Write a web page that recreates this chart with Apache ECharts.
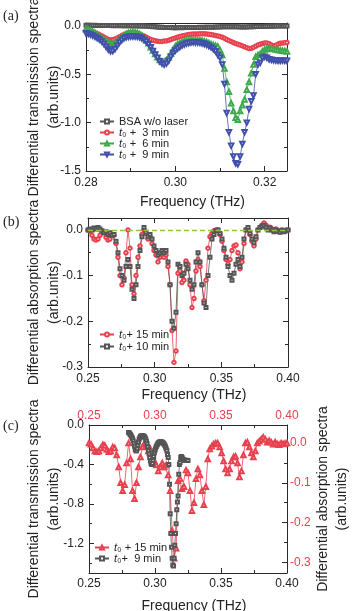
<!DOCTYPE html>
<html>
<head>
<meta charset="utf-8">
<script src="https://cdn.jsdelivr.net/npm/echarts@6/dist/echarts.min.js"></script>
<style>
html, body { margin: 0; padding: 0; background: #fff; }
#chart { width: 353px; height: 611px; }
</style>
</head>
<body>
<div id="chart"></div>
<script>
// (a) differential transmission, 0.28 - 0.325 THz
var freqA = [
  0.2800,0.2805,0.2810,0.2815,0.2820,0.2825,0.2830,0.2835,0.2840,0.2845,
  0.2850,0.2855,0.2860,0.2865,0.2870,0.2875,0.2880,0.2885,0.2890,0.2895,
  0.2900,0.2905,0.2910,0.2915,0.2920,0.2925,0.2930,0.2935,0.2940,0.2945,
  0.2950,0.2955,0.2960,0.2965,0.2970,0.2975,0.2980,0.2985,0.2990,0.2995,
  0.3000,0.3005,0.3010,0.3015,0.3020,0.3025,0.3030,0.3035,0.3040,0.3045,
  0.3050,0.3055,0.3060,0.3065,0.3070,0.3075,0.3080,0.3085,0.3090,0.3095,
  0.3100,0.3105,0.3110,0.3115,0.3120,0.3125,0.3130,0.3135,0.3140,0.3145,
  0.3150,0.3155,0.3160,0.3165,0.3170,0.3175,0.3180,0.3185,0.3190,0.3195,
  0.3200,0.3205,0.3210,0.3215,0.3220,0.3225,0.3230,0.3235,0.3240,0.3245,
  0.3250
];
var bsaNoLaser = [
  0.008,0.006,0.007,0.005,0.006,0.004,0.005,0.004,0.003,0.004,
  0.003,0.004,0.002,0.003,0.002,0.003,0.002,0.001,0.002,0.001,
  0.001,0.000,0.001,0.000,-0.001,0.000,-0.002,-0.003,-0.004,-0.006,
  -0.008,-0.010,-0.012,-0.014,-0.015,-0.016,-0.016,-0.017,-0.017,-0.018,
  -0.018,-0.018,-0.017,-0.018,-0.017,-0.017,-0.016,-0.017,-0.016,-0.016,
  -0.016,-0.015,-0.016,-0.015,-0.014,-0.015,-0.014,-0.013,-0.012,-0.012,
  -0.011,-0.010,-0.010,-0.009,-0.009,-0.008,-0.008,-0.009,-0.010,-0.011,
  -0.012,-0.012,-0.011,-0.010,-0.009,-0.008,-0.007,-0.006,-0.006,-0.005,
  -0.005,-0.004,-0.004,-0.003,-0.003,-0.002,-0.002,-0.001,-0.001,0.000,
  0.000
];
var trans3 = [
  -0.045,-0.048,-0.055,-0.062,-0.070,-0.080,-0.090,-0.102,-0.115,-0.128,
  -0.140,-0.145,-0.142,-0.135,-0.125,-0.112,-0.100,-0.090,-0.080,-0.074,
  -0.070,-0.070,-0.072,-0.077,-0.085,-0.095,-0.105,-0.117,-0.130,-0.140,
  -0.148,-0.154,-0.158,-0.160,-0.160,-0.157,-0.155,-0.148,-0.140,-0.132,
  -0.125,-0.117,-0.110,-0.104,-0.098,-0.094,-0.090,-0.087,-0.085,-0.084,
  -0.083,-0.082,-0.082,-0.082,-0.084,-0.086,-0.090,-0.095,-0.100,-0.105,
  -0.110,-0.118,-0.128,-0.140,-0.152,-0.162,-0.172,-0.182,-0.190,-0.198,
  -0.207,-0.216,-0.225,-0.233,-0.232,-0.222,-0.210,-0.198,-0.190,-0.183,
  -0.178,-0.176,-0.185,-0.198,-0.207,-0.200,-0.188,-0.180,-0.177,-0.175,
  -0.172
];
var trans6 = [
  -0.034,-0.040,-0.048,-0.058,-0.070,-0.085,-0.102,-0.122,-0.142,-0.162,
  -0.180,-0.192,-0.190,-0.178,-0.160,-0.138,-0.115,-0.097,-0.083,-0.073,
  -0.068,-0.066,-0.068,-0.074,-0.085,-0.100,-0.122,-0.148,-0.180,-0.220,
  -0.255,-0.290,-0.325,-0.352,-0.368,-0.370,-0.355,-0.325,-0.285,-0.245,
  -0.210,-0.190,-0.175,-0.165,-0.158,-0.152,-0.148,-0.146,-0.145,-0.146,
  -0.147,-0.149,-0.152,-0.158,-0.166,-0.176,-0.188,-0.196,-0.204,-0.212,
  -0.250,-0.300,-0.440,-0.580,-0.680,-0.800,-0.880,-0.950,-0.970,-0.880,
  -0.820,-0.760,-0.660,-0.580,-0.490,-0.400,-0.320,-0.300,-0.290,-0.265,
  -0.245,-0.238,-0.230,-0.232,-0.240,-0.244,-0.248,-0.252,-0.256,-0.260,
  -0.265
];
var trans9 = [
  -0.076,-0.082,-0.090,-0.100,-0.112,-0.125,-0.140,-0.160,-0.185,-0.215,
  -0.245,-0.262,-0.260,-0.240,-0.205,-0.172,-0.145,-0.128,-0.117,-0.112,
  -0.110,-0.109,-0.110,-0.113,-0.118,-0.128,-0.145,-0.165,-0.190,-0.220,
  -0.260,-0.295,-0.330,-0.365,-0.390,-0.400,-0.390,-0.360,-0.320,-0.280,
  -0.255,-0.235,-0.218,-0.203,-0.192,-0.183,-0.177,-0.172,-0.170,-0.171,
  -0.172,-0.175,-0.180,-0.187,-0.196,-0.208,-0.222,-0.240,-0.262,-0.300,
  -0.330,-0.400,-0.600,-0.900,-1.100,-1.240,-1.350,-1.420,-1.430,-1.350,
  -1.220,-1.100,-1.000,-0.860,-0.780,-0.720,-0.500,-0.400,-0.380,-0.330,
  -0.320,-0.330,-0.345,-0.350,-0.355,-0.358,-0.360,-0.360,-0.358,-0.360,
  -0.360
];

// (b) differential absorption, 0.25 - 0.40 THz
var freqB = [
  0.2500,0.2515,0.2530,0.2545,0.2560,0.2575,0.2590,0.2605,0.2620,0.2635,
  0.2650,0.2665,0.2680,0.2695,0.2710,0.2725,0.2740,0.2755,0.2770,0.2785,
  0.2800,0.2815,0.2830,0.2845,0.2860,0.2875,0.2890,0.2905,0.2920,0.2935,
  0.2950,0.2965,0.2980,0.2995,0.3010,0.3025,0.3040,0.3055,0.3070,0.3085,
  0.3100,0.3115,0.3130,0.3145,0.3160,0.3175,0.3190,0.3205,0.3220,0.3235,
  0.3250,0.3265,0.3280,0.3295,0.3310,0.3325,0.3340,0.3355,0.3370,0.3385,
  0.3400,0.3415,0.3430,0.3445,0.3460,0.3475,0.3490,0.3505,0.3520,0.3535,
  0.3550,0.3565,0.3580,0.3595,0.3610,0.3625,0.3640,0.3655,0.3670,0.3685,
  0.3700,0.3715,0.3730,0.3745,0.3760,0.3775,0.3790,0.3805,0.3820,0.3835,
  0.3850,0.3865,0.3880,0.3895,0.3910,0.3925,0.3940,0.3955,0.3970,0.3985,
  0.4000
];
var absorb15 = [
  0.000,-0.003,-0.012,-0.020,-0.022,-0.020,-0.012,-0.004,-0.006,-0.016,
  -0.022,-0.020,-0.010,-0.012,-0.030,-0.060,-0.100,-0.120,-0.105,-0.050,
  0.000,-0.040,-0.120,-0.140,-0.100,-0.060,-0.035,-0.010,0.000,-0.008,
  -0.020,-0.015,-0.030,-0.045,-0.055,-0.070,-0.060,-0.050,-0.060,-0.055,
  -0.080,-0.120,-0.220,-0.290,-0.265,-0.095,-0.090,-0.115,-0.110,-0.068,
  -0.075,-0.120,-0.170,-0.150,-0.090,-0.065,-0.080,-0.120,-0.155,-0.110,
  -0.040,-0.015,-0.008,-0.002,0.000,0.000,-0.010,-0.025,-0.045,-0.065,
  -0.075,-0.065,-0.045,-0.035,-0.033,-0.050,-0.085,-0.070,-0.030,0.000,
  0.002,-0.010,-0.025,-0.035,-0.020,0.000,0.005,0.010,0.015,0.010,
  0.002,0.006,0.002,-0.003,0.002,-0.002,-0.004,0.000,-0.002,-0.001,
  0.000
];
var absorb10 = [
  0.000,0.002,0.000,0.004,0.002,0.005,0.002,-0.002,-0.006,-0.004,
  -0.010,-0.006,-0.012,-0.010,-0.025,-0.050,-0.085,-0.100,-0.110,-0.080,
  -0.065,-0.080,-0.130,-0.150,-0.120,-0.080,-0.045,-0.015,0.005,-0.005,
  -0.015,-0.010,-0.020,-0.035,-0.045,-0.055,-0.050,-0.045,-0.050,-0.045,
  -0.070,-0.120,-0.200,-0.215,-0.180,-0.075,-0.080,-0.100,-0.095,-0.075,
  -0.085,-0.110,-0.130,-0.120,-0.070,-0.050,-0.070,-0.120,-0.160,-0.170,
  -0.100,-0.060,-0.020,-0.010,-0.002,0.000,-0.008,-0.020,-0.040,-0.060,
  -0.080,-0.100,-0.110,-0.095,-0.075,-0.065,-0.080,-0.060,-0.020,0.000,
  0.005,-0.008,-0.020,-0.028,-0.015,0.000,0.005,0.008,0.010,0.006,
  0.000,0.004,0.000,-0.004,0.000,-0.003,-0.005,-0.001,-0.004,-0.002,
  0.000
];

// tick positions
var xTicksA = [0.28, 0.30, 0.32], xMinorA = [0.29, 0.31];
var yTicksA = [0, -0.5, -1.0, -1.5], yMinorA = [-0.25, -0.75, -1.25];
var xTicksB = [0.25, 0.30, 0.35, 0.40], xMinorB = [0.275, 0.325, 0.375];
var yTicksB = [0, -0.1, -0.2, -0.3], yMinorB = [-0.05, -0.15, -0.25];
var yTicksC = [0, -0.4, -0.8, -1.2], yMinorC = [-0.2, -0.6, -1.0, -1.4];
var yTicksC2 = [0, -0.1, -0.2, -0.3], yMinorC2 = [-0.05, -0.15, -0.25];

var AXIS = '#2a2a2a', TXT = '#222';
var BLACK = '#555555', RED = '#e8404e', GREEN = '#3fa94d', BLUE = '#4150aa', DASH = '#8cc63f';
var FONT = '"Liberation Sans", Arial, sans-serif';

var xAxes = [], yAxes = [];

function fmt(d) {
  return function (v) { return v.toFixed(d); };
}

// one side of the frame: line + long ticks (+labels), then a bare axis for the short ticks
function side(list, grid, pos, range, major, minor, lab) {
  var idx = list.length;
  list.push({
    gridIndex: grid, type: 'value', position: pos, min: range[0], max: range[1],
    axisLine: { show: true, onZero: false, lineStyle: { color: AXIS, width: 1 } },
    axisTick: { show: true, inside: true, length: 5, customValues: major, lineStyle: { color: AXIS } },
    axisLabel: lab ? {
      show: true, customValues: major, formatter: fmt(lab.d), margin: lab.m,
      color: lab.c || TXT, fontSize: 12, fontFamily: FONT
    } : { show: false },
    splitLine: { show: false }
  });
  list.push({
    gridIndex: grid, type: 'value', position: pos, min: range[0], max: range[1],
    axisLine: { show: false, onZero: false },
    axisTick: { show: true, inside: true, length: 3, customValues: minor, lineStyle: { color: AXIS } },
    axisLabel: { show: false },
    splitLine: { show: false }
  });
  return idx;
}

function title(ax, text, gap, pad) {
  ax.name = text;
  ax.nameLocation = 'middle';
  ax.nameGap = gap;
  ax.nameMoveOverlap = false;
  ax.nameTextStyle = { fontSize: 14, fontFamily: FONT, color: TXT, lineHeight: 20, padding: pad || 0 };
}

// panel (a)
var xa = side(xAxes, 0, 'bottom', [0.28, 0.325], xTicksA, xMinorA, { d: 2, m: 6 });
side(xAxes, 0, 'top', [0.28, 0.325], xTicksA, xMinorA, null);
var ya = side(yAxes, 0, 'left', [-1.5, 0.03], yTicksA, yMinorA, { d: 1, m: 5 });
side(yAxes, 0, 'right', [-1.5, 0.03], yTicksA, yMinorA, null);
title(xAxes[xa], 'Frequency (THz)', 21, [0, 0, 0, 12]);
title(yAxes[ya], 'Differential transmission spectra\n(arb.units)', 22);

// panel (b)
var xb = side(xAxes, 1, 'bottom', [0.25, 0.40], xTicksB, xMinorB, { d: 2, m: 6 });
side(xAxes, 1, 'top', [0.25, 0.40], xTicksB, xMinorB, null);
var yb = side(yAxes, 1, 'left', [-0.3, 0.026], yTicksB, yMinorB, { d: 1, m: 5 });
side(yAxes, 1, 'right', [-0.3, 0.026], yTicksB, yMinorB, null);
title(xAxes[xb], 'Frequency (THz)', 18, [0, 0, 0, 12]);
title(yAxes[yb], 'Differential absorption spectra\n(arb.units)', 24);

// panel (c)
var xc = side(xAxes, 2, 'bottom', [0.25, 0.40], xTicksB, xMinorB, { d: 2, m: 5 });
var xc2 = side(xAxes, 2, 'top', [0.25, 0.40], xTicksB, xMinorB, { d: 2, m: 3, c: RED });
var yc = side(yAxes, 2, 'left', [-1.5, 0.0], yTicksC, yMinorC, { d: 1, m: 5 });
var yc2 = side(yAxes, 2, 'right', [-0.327, 0.0456], yTicksC2, yMinorC2, { d: 1, m: 3, c: RED });
title(xAxes[xc], 'Frequency (THz)', 23, [0, 0, 0, 12]);
title(yAxes[yc], 'Differential transmission spectra\n(arb.units)', 25);
title(yAxes[yc2], 'Differential absorption spectra\n(arb.units)', 27);
yAxes[yc2].nameTextStyle.lineHeight = 19;

function curve(name, xi, yi, xs, ys, color, symbol, size, rot) {
  return {
    name: name, type: 'line', xAxisIndex: xi, yAxisIndex: yi,
    data: xs.map(function (x, i) { return [x, ys[i]]; }),
    symbol: symbol, symbolSize: size, symbolRotate: rot || 0, showAllSymbol: true,
    lineStyle: { color: color, width: 0.8 },
    itemStyle: { color: color, borderColor: color, borderWidth: 0.8 },
    emphasis: { disabled: true }
  };
}

var series = [
  curve('bsa', xa, ya, freqA, bsaNoLaser, BLACK, 'emptyRect', 3),
  curve('a3', xa, ya, freqA, trans3, RED, 'emptyCircle', 3.5),
  curve('a6', xa, ya, freqA, trans6, GREEN, 'emptyTriangle', 4.5),
  curve('a9', xa, ya, freqA, trans9, BLUE, 'emptyTriangle', 4.5, 180),
  curve('b15', xb, yb, freqB, absorb15, RED, 'emptyCircle', 3.5),
  curve('b10', xb, yb, freqB, absorb10, BLACK, 'emptyRect', 3),
  curve('c15', xc2, yc2, freqB, absorb15, RED, 'emptyTriangle', 4.5),
  curve('c9', xc, yc, freqA, trans9, BLACK, 'emptyRect', 3)
];
series[4].markLine = {
  silent: true, symbol: 'none', label: { show: false },
  lineStyle: { color: DASH, type: [5, 3], width: 1.3 },
  data: [{ yAxis: 0 }]
};

var legendText = {
  bsa: 'BSA w/o laser',
  a3: '{i|t}\u2080 +  3 min', a6: '{i|t}\u2080 +  6 min', a9: '{i|t}\u2080 +  9 min',
  b15: '{i|t}\u2080+ 15 min', b10: '{i|t}\u2080+ 10 min',
  c15: '{i|t}\u2080 + 15 min', c9: '{i|t}\u2080+  9 min'
};

function legend(names, left, top, gap) {
  return {
    data: names, orient: 'vertical', left: left, top: top, padding: 0,
    itemWidth: 14, itemHeight: 5, itemGap: gap, selectedMode: false,
    itemStyle: { borderWidth: 0.8 },
    formatter: function (n) { return legendText[n]; },
    textStyle: {
      fontSize: 11, fontFamily: FONT, color: TXT, lineHeight: 10,
      rich: {
        i: { fontStyle: 'italic', fontSize: 11, fontFamily: FONT, color: TXT, lineHeight: 10 }
      }
    }
  };
}

var chart = echarts.init(document.getElementById('chart'), null, { renderer: 'canvas' });
chart.setOption({
  animation: false,
  backgroundColor: '#fff',
  grid: [
    { left: 86, top: 23, width: 201, height: 148, outerBoundsMode: 'none' },
    { left: 88, top: 218, width: 200, height: 149, outerBoundsMode: 'none' },
    { left: 89, top: 425, width: 198, height: 148, outerBoundsMode: 'none' }
  ],
  xAxis: xAxes,
  yAxis: yAxes,
  legend: [
    legend(['bsa', 'a3', 'a6', 'a9'], 99, 116, 0),
    legend(['b15', 'b10'], 99, 329, 1),
    legend(['c15', 'c9'], 94, 542, 0)
  ],
  graphic: [
    { type: 'text', left: 3, top: 9, style: { text: '(a)', font: '14px "Liberation Serif", serif', fill: TXT } },
    { type: 'text', left: 3, top: 215, style: { text: '(b)', font: '14px "Liberation Serif", serif', fill: TXT } },
    { type: 'text', left: 3, top: 419, style: { text: '(c)', font: '14px "Liberation Serif", serif', fill: TXT } }
  ],
  series: series
});

window.onresize = function () {
  chart.resize();
};
</script>
</body>
</html>
